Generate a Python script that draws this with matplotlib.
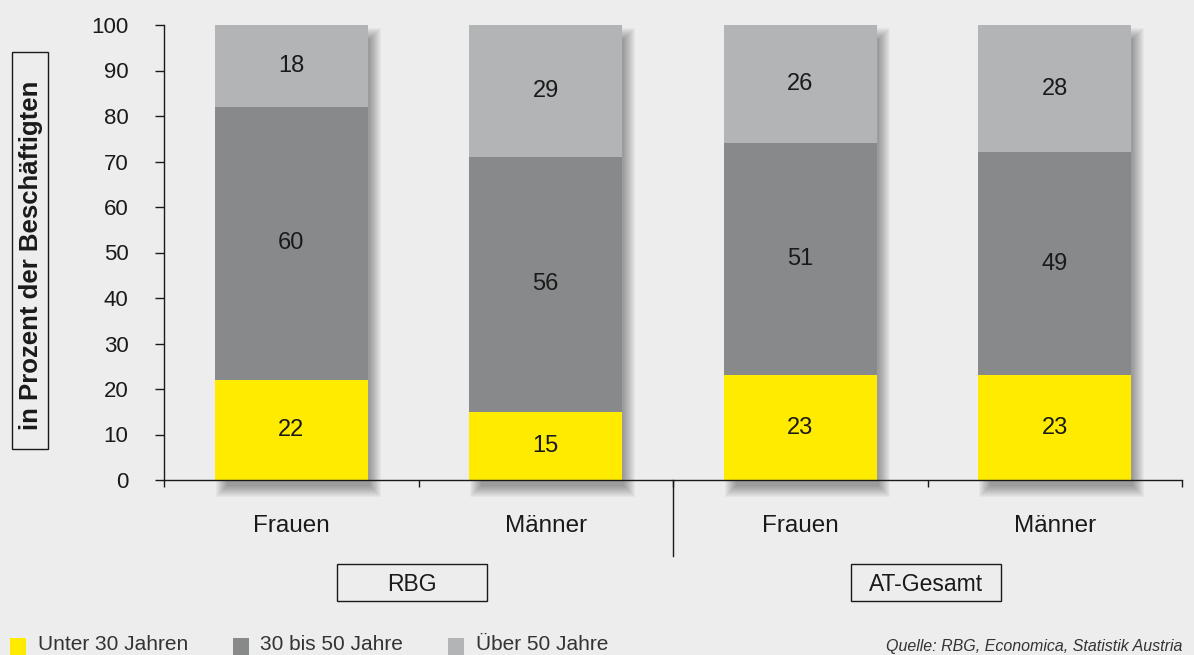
import matplotlib
matplotlib.use("Agg")
import matplotlib.pyplot as plt
from matplotlib.patches import Rectangle
import numpy as np

categories = ["Frauen", "Männer", "Frauen", "Männer"]
groups = ["RBG", "AT-Gesamt"]
under30 = [22, 15, 23, 23]
mid = [60, 56, 51, 49]
over50 = [18, 29, 26, 28]
series_names = ["Unter 30 Jahren", "30 bis 50 Jahre", "Über 50 Jahre"]
yticks = list(range(0, 101, 10))
ylabel = "in Prozent der Beschäftigten"
source = "Quelle: RBG, Economica, Statistik Austria"

colors = ["#FFEB00", "#88898B", "#B3B4B5"]
bg = "#ECEDEC"
ink = "#1a1a1a"

plt.rcParams['font.family'] = ['Liberation Sans', 'DejaVu Sans']

W, H = 1194, 655
fig = plt.figure(figsize=(W / 100, H / 100), dpi=100)
fig.patch.set_facecolor(bg)

L, R, T, B = 164, 1182, 25, 480
ax = fig.add_axes([L / W, 1 - B / H, (R - L) / W, (B - T) / H])
ax.set_facecolor("none")
ax.set_xlim(-0.5, 3.5)
ax.set_ylim(0, 100)

x = np.arange(len(categories))
bw = 0.6
pxx = 4.0 / (R - L)      # data units per pixel in x
pxy = 100.0 / (B - T)    # data units per pixel in y

series = [under30, mid, over50]
totals = np.sum(series, axis=0)

# soft drop shadows (offset right / down)
for i in range(len(categories)):
    left = x[i] - bw / 2 + 12 * pxx
    right = x[i] + bw / 2 + 2 * pxx
    top = totals[i] - 14 * pxy
    bottom = -6 * pxy
    for r in range(0, 12):
        ax.add_patch(Rectangle((left - r * pxx, bottom - r * pxy),
                               (right - left) + 2 * r * pxx,
                               (top - bottom) + 2 * r * pxy,
                               facecolor="black", alpha=0.032, lw=0,
                               zorder=1, clip_on=False))

bottoms = np.zeros(len(categories))
for vals, col, name in zip(series, colors, series_names):
    ax.bar(x, vals, bw, bottom=bottoms, color=col, zorder=3, label=name,
           linewidth=0)
    for xi, v, b in zip(x, vals, bottoms):
        ax.text(xi, b + v / 2, f"{v}", ha="center", va="center",
                fontsize=17, color=ink, zorder=4)
    bottoms = bottoms + np.array(vals)

for s in ["top", "right"]:
    ax.spines[s].set_visible(False)
for s in ["left", "bottom"]:
    ax.spines[s].set_color(ink)
    ax.spines[s].set_linewidth(1.0)
    ax.spines[s].set_zorder(5)

ax.set_yticks(yticks)
ax.tick_params(axis="y", length=6.5, width=1.0, pad=19, labelsize=16,
               colors=ink)
ax.set_xticks([-0.5, 0.5, 1.5, 2.5, 3.5])
ax.set_xticklabels([])
ax.tick_params(axis="x", which="major", length=5, width=1.0, colors=ink)

# category labels (baseline ~52 px below axis)
for xi, c in zip(x, categories):
    ax.text(xi, -52 * pxy, c, ha="center", va="baseline", fontsize=17.5,
            color=ink, clip_on=False)

# group divider
ax.plot([1.5, 1.5], [0, -76 * pxy], color=ink, lw=1.0, clip_on=False,
        zorder=5)

def fig_box(x0, y0, x1, y1):
    fig.add_artist(Rectangle((x0 / W, 1 - y1 / H), (x1 - x0) / W,
                             (y1 - y0) / H, transform=fig.transFigure,
                             fill=False, edgecolor=ink, lw=1.0))

# group label boxes
for (x0, x1), g in zip([(337, 487), (851, 1001)], groups):
    fig_box(x0, 564, x1, 601)
    fig.text((x0 + x1) / 2 / W, 1 - 591 / H, g, ha="center", va="baseline",
             fontsize=16.5, color=ink)

# y label box
fig_box(12, 52, 48, 449)
fig.text(31 / W, 1 - 255 / H, ylabel, rotation=90, ha="center",
         va="center", fontsize=18.5, fontweight="bold", color=ink)

# legend
for xs, xt, col, name in zip([10, 233, 448], [38, 260, 476], colors,
                             series_names):
    fig.add_artist(Rectangle((xs / W, 0), 16 / W, 17 / H,
                             transform=fig.transFigure, facecolor=col,
                             lw=0))
    fig.text(xt / W, 1 / H, name, ha="left", va="bottom",
             fontsize=15, color="#333333")

fig.text(1182 / W, 1 / H, source, ha="right", va="bottom",
         fontsize=11.5, style="italic", color="#333333")

fig.savefig("out.png", dpi=100, facecolor=bg)
